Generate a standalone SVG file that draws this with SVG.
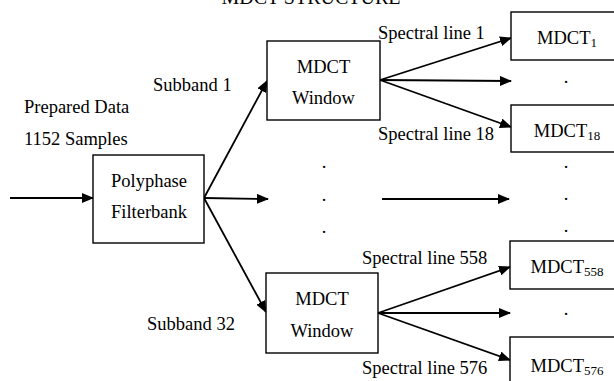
<svg xmlns="http://www.w3.org/2000/svg" width="614" height="381" viewBox="0 0 614 381">
<style>
text{font-family:"Liberation Serif",Tinos,"Times New Roman",Times,"DejaVu Serif",serif;font-size:18.5px;fill:#000}
.c{text-anchor:middle}
.sub{font-size:13px}
.box{fill:#fff;stroke:#000;stroke-width:1.4}
.ln{stroke:#000;stroke-width:1.8;fill:none;marker-end:url(#ah)}
</style>
<defs>
<marker id="ah" markerWidth="12" markerHeight="10" refX="11" refY="5" orient="auto" markerUnits="userSpaceOnUse">
<path d="M0,0 L12,5 L0,10 Z" fill="#000"/>
</marker>
</defs>
<rect width="614" height="381" fill="#fff"/>
<g font-family="'Liberation Serif', Tinos, 'Times New Roman', Times, 'DejaVu Serif', serif">
<text class="c" x="311" y="4" style="font-size:20px">MDCT STRUCTURE</text>
<g id="connectors">
<line class="ln" x1="10" y1="198" x2="93" y2="198"/>
<line class="ln" x1="204" y1="198" x2="267" y2="81"/>
<line class="ln" x1="204" y1="198" x2="268" y2="199"/>
<line class="ln" x1="204" y1="198" x2="266" y2="312"/>
<line class="ln" x1="382" y1="199" x2="509" y2="199"/>
<line class="ln" x1="380" y1="80" x2="511" y2="38"/>
<line class="ln" x1="380" y1="80" x2="511" y2="81"/>
<line class="ln" x1="380" y1="80" x2="511" y2="127"/>
<line class="ln" x1="378" y1="313" x2="510" y2="267"/>
<line class="ln" x1="378" y1="313" x2="510" y2="313"/>
<line class="ln" x1="378" y1="313" x2="510" y2="360"/>
</g>
<g id="labels">
<text x="24" y="113">Prepared Data</text>
<text x="24" y="145">1152 Samples</text>
<text x="153" y="91">Subband 1</text>
<text x="147" y="330">Subband 32</text>
<text x="378" y="39">Spectral line 1</text>
<text x="378" y="140">Spectral line 18</text>
<text x="362" y="264">Spectral line 558</text>
<text x="362" y="374">Spectral line 576</text>
</g>
<g id="dots">
<text class="c" x="324" y="168">.</text>
<text class="c" x="324" y="201">.</text>
<text class="c" x="324" y="233">.</text>
<text class="c" x="566" y="83">.</text>
<text class="c" x="566" y="168">.</text>
<text class="c" x="566" y="200">.</text>
<text class="c" x="566" y="232">.</text>
<text class="c" x="566" y="315">.</text>
</g>
<g id="polyphase">
<rect class="box" x="93" y="155" width="111" height="88"/>
<text class="c" x="149" y="187">Polyphase</text>
<text class="c" x="149" y="218">Filterbank</text>
</g>
<g id="window1">
<rect class="box" x="267" y="41" width="113" height="79"/>
<text class="c" x="323.5" y="73">MDCT</text>
<text class="c" x="323.5" y="104">Window</text>
</g>
<g id="window2">
<rect class="box" x="266" y="273" width="112" height="80"/>
<text class="c" x="322" y="305">MDCT</text>
<text class="c" x="322" y="337">Window</text>
</g>
<g id="mdct1">
<rect class="box" x="511" y="12" width="113" height="48"/>
<text class="c" x="567" y="44">MDCT<tspan class="sub" dy="3">1</tspan></text>
</g>
<g id="mdct18">
<rect class="box" x="511" y="105" width="113" height="47"/>
<text class="c" x="567" y="137">MDCT<tspan class="sub" dy="3">18</tspan></text>
</g>
<g id="mdct558">
<rect class="box" x="510" y="241" width="114" height="48"/>
<text class="c" x="567" y="273">MDCT<tspan class="sub" dy="3">558</tspan></text>
</g>
<g id="mdct576">
<rect class="box" x="510" y="337" width="114" height="48"/>
<text class="c" x="567" y="372">MDCT<tspan class="sub" dy="3">576</tspan></text>
</g>
</g>
</svg>
